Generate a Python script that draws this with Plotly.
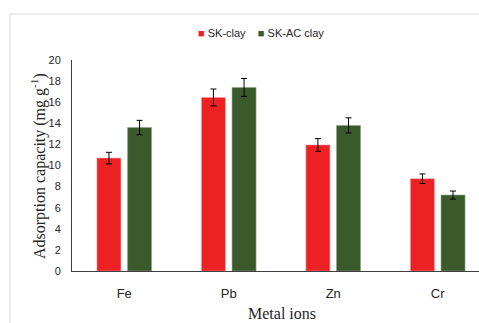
import plotly.graph_objects as go

categories = ["Fe", "Pb", "Zn", "Cr"]
sk_clay = [10.7, 16.45, 11.95, 8.75]
sk_clay_err = [0.55, 0.8, 0.6, 0.45]
sk_ac_clay = [13.6, 17.4, 13.8, 7.2]
sk_ac_clay_err = [0.68, 0.85, 0.72, 0.38]
y_ticks = [0, 2, 4, 6, 8, 10, 12, 14, 16, 18, 20]

RED = "#ED2024"
GREEN = "#3B5A2C"

fig = go.Figure()
fig.add_trace(go.Bar(
    x=categories, y=sk_clay, name="SK-clay", marker_color=RED,
    marker_line=dict(color="#F7A0A2", width=0.6),
    error_y=dict(type="data", array=sk_clay_err, color="black", thickness=1, width=3),
    showlegend=False))
fig.add_trace(go.Bar(
    x=categories, y=sk_ac_clay, name="SK-AC clay", marker_color=GREEN,
    marker_line=dict(color="#8FA385", width=0.6),
    error_y=dict(type="data", array=sk_ac_clay_err, color="black", thickness=1, width=3),
    showlegend=False))

W, H = 479, 323
L, R, T, B = 72, 0, 60, 52
pw, ph = W - L - R, H - T - B

def px_x(p):
    return (p - L) / pw

def px_y(p):
    return (H - B - p) / ph

fig.update_layout(
    width=W, height=H,
    margin=dict(l=L, r=R, t=T, b=B),
    paper_bgcolor="white", plot_bgcolor="white",
    barmode="group", bargap=0.414, bargroupgap=0.216,
    font=dict(family="Liberation Sans", color="#262626"),
    xaxis=dict(
        range=[-0.5, 3.395], showgrid=False, showline=True,
        linecolor="#404040", linewidth=1, ticks="",
        tickfont=dict(size=13, family="Liberation Sans", color="#262626"),
        ticklabelstandoff=10,
    ),
    yaxis=dict(
        range=[0, 20], tickvals=y_ticks, showgrid=False, zeroline=False,
        showline=True, linecolor="#404040", linewidth=1, ticks="",
        tickfont=dict(size=11, family="Liberation Sans", color="#262626"),
        ticklabelstandoff=8,
    ),
    shapes=[dict(
        type="rect", xref="paper", yref="paper",
        x0=px_x(10), x1=1.1, y0=-0.6, y1=px_y(14),
        line=dict(color="#D9D9D9", width=1), fillcolor="rgba(0,0,0,0)",
        layer="below")],
    annotations=[
        dict(text="Metal ions", xref="paper", yref="paper",
             x=px_x(282), y=px_y(313), xanchor="center", yanchor="middle",
             showarrow=False,
             font=dict(family="Liberation Serif", size=16, color="#262626")),
        dict(text="Adsorption capacity (mg g<sup>-1</sup>)", xref="paper", yref="paper",
             x=px_x(38), y=px_y(166), xanchor="center", yanchor="middle",
             textangle=-90, showarrow=False,
             font=dict(family="Liberation Serif", size=16, color="#262626")),
        dict(text=f'<span style="color:{RED}">■</span> SK-clay    '
                  f'<span style="color:{GREEN}">■</span> SK-AC clay',
             xref="paper", yref="paper",
             x=px_x(261), y=px_y(33), xanchor="center", yanchor="middle",
             showarrow=False,
             font=dict(family="Liberation Sans", size=11, color="#262626")),
    ],
)

fig.write_html("out.html", config={"displayModeBar": False},
               post_script="document.body.style.margin='0';document.body.style.overflow='hidden';")
